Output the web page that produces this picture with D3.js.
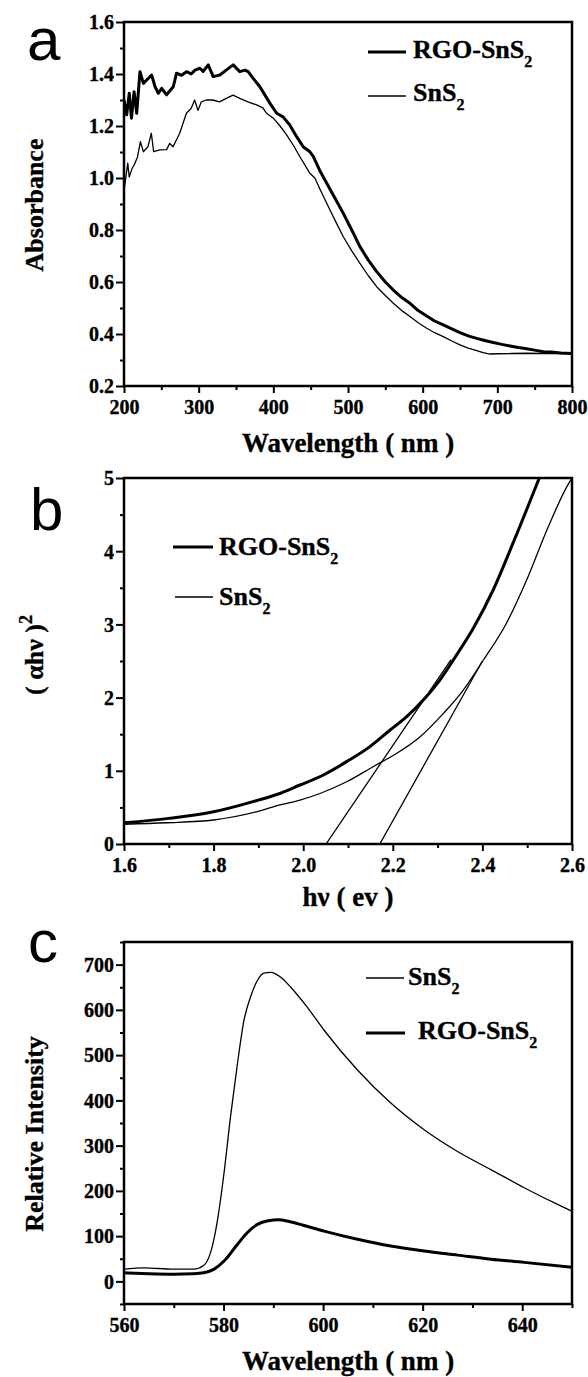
<!DOCTYPE html>
<html>
<head>
<script src="https://d3js.org/d3.v7.min.js"></script>
<style>
body { margin: 0; background: #fff; }
svg text { font-family: "Liberation Serif", "Times New Roman", serif; font-weight: bold; fill: #000; stroke: #000; stroke-width: 0.35px; }
.letter { font-family: "Liberation Sans", Arial, sans-serif; font-weight: normal; font-size: 60px; stroke-width: 0; }
</style>
</head>
<body>
<script>

// ---- panel a : absorbance ----
var absNm   = [200,203.6,207,210,213.5,217,221.4,226,230.4,237,241.6,246,250.5,257,266,270.4,277,283.8,290,295,301.6,306,312.8,319.5,328.4,337.3,346.2,355,362,366.3,373,382,395.5,404.5,413,422,431,440,449,453.6,462,471.5,483,493.7,505,516,527,538.4,550,560.7,572,583,594,605.4,616,627.6,639,650,661,672.3,683,694.6,706,717,728,739.3,750,761.6,772,785,800];
var absRGO  = [1.30,1.243,1.326,1.23,1.332,1.249,1.409,1.364,1.377,1.396,1.351,1.326,1.345,1.32,1.351,1.403,1.395,1.409,1.40,1.415,1.422,1.41,1.435,1.39,1.396,1.416,1.435,1.409,1.415,1.409,1.383,1.351,1.287,1.249,1.235,1.204,1.16,1.12,1.101,1.082,1.03,0.98,0.92,0.864,0.80,0.736,0.685,0.64,0.60,0.569,0.54,0.518,0.49,0.469,0.45,0.435,0.42,0.405,0.393,0.383,0.375,0.367,0.36,0.354,0.348,0.343,0.338,0.332,0.331,0.327,0.325];
var absNm2  = [200,202,205,207,211,213.6,218,222,226,232,236.6,239.7,248,257,261.3,265.7,274.6,283.6,290,294.6,299,303.6,310,319,328,337,346,355,366,377.6,386,391,400,409,418,427,436,449,455.8,462,471.5,483,493.7,505,516,527,538.4,550,560.7,572,583,594,605.4,616,627.6,639,650,661,672.3,681,690,700,720,740,760,780,800];
var absSnS2 = [0.954,0.992,1.057,1.004,1.038,1.05,1.08,1.14,1.101,1.12,1.172,1.101,1.108,1.109,1.133,1.12,1.172,1.249,1.268,1.30,1.26,1.293,1.30,1.30,1.293,1.306,1.319,1.306,1.293,1.281,1.27,1.249,1.23,1.20,1.165,1.125,1.08,1.018,0.999,0.96,0.903,0.835,0.774,0.72,0.672,0.625,0.582,0.548,0.518,0.49,0.467,0.443,0.422,0.405,0.39,0.373,0.358,0.346,0.336,0.328,0.323,0.324,0.325,0.326,0.325,0.326,0.325];
var absXTicks = [200,300,400,500,600,700,800];
var absYTicks = [0.2,0.4,0.6,0.8,1.0,1.2,1.4,1.6];

// ---- panel b : (ahv)^2 vs hv ----
var taucEvRGO  = [1.60,1.70,1.80,1.90,1.948,1.993,2.045,2.097,2.149,2.194,2.231,2.268,2.305,2.34,2.38,2.424,2.469,2.527];
var taucRGO    = [0.29,0.35,0.44,0.60,0.69,0.806,0.943,1.125,1.33,1.557,1.74,1.967,2.24,2.56,2.95,3.47,4.12,5.0];
var tauEvSnS2  = [1.60,1.695,1.80,1.896,1.948,1.993,2.0375,2.097,2.156,2.209,2.261,2.313,2.357,2.402,2.454,2.499,2.544,2.592,2.60];
var tauSnS2    = [0.27,0.29,0.328,0.44,0.533,0.60,0.69,0.85,1.056,1.239,1.466,1.785,2.10,2.51,3.02,3.61,4.29,4.92,5.0];
var tangentRGO  = [[2.051,0],[2.33,2.52]];
var tangentSnS2 = [[2.171,0],[2.40,2.50]];
var tauXTicks = [1.6,1.8,2.0,2.2,2.4,2.6];
var tauYTicks = [0,1,2,3,4,5];

// ---- panel c : PL ----
var plNmSnS2 = [560,564,570,574,576,577.4,578.7,580.1,581.4,582.8,584.1,585.4,586.8,588.1,589.5,591.5,593.5,596.8,600.2,606.9,613.6,620.3,627,633.7,640.4,647.1,650];
var plSnS2   = [27,30,27,27,35,64,130,240,364,482,577,628,665,681,683,672,650,606,555,467,394,335,287,247,207,170,155];
var plNmRGO  = [560,565,570,574,576,578.1,580.1,582.8,584.8,586.8,589,591,593,596,600.2,606.9,613.6,620.3,627,633.7,640.4,650];
var plRGO    = [19,17,16,17,19,27,45,82,108,126,134,136,133,124,111,93,78,67,58,49,42,31];
var plXTicks = [560,580,600,620,640];
var plYTicks = [0,100,200,300,400,500,600,700];

var width = 588, height = 1377;
var left = 124, right = 572, w = right - left;

var svg = d3.select("body").append("svg")
    .attr("width", width)
    .attr("height", height);

function zip(xs, ys) { return xs.map(function(v, i) { return [v, ys[i]]; }); }

function styleTicks(sel) {
  sel.attr("font-family", "Liberation Serif")
     .attr("font-weight", "bold")
     .style("font-family", "'Liberation Serif', serif")
     .style("font-weight", "bold")
     .style("font-size", "20px");
}

function panel(o) {
  var h = o.bottom - o.top;
  var g = svg.append("g").attr("transform", "translate(" + left + "," + o.top + ")");
  var x = d3.scaleLinear().domain(o.xDomain).range([0, w]);
  var y = d3.scaleLinear().domain(o.yDomain).range([h, 0]);

  g.append("clipPath").attr("id", o.id)
    .append("rect").attr("width", w).attr("height", h);

  // minor ticks
  g.append("g").attr("transform", "translate(0," + h + ")")
    .call(d3.axisBottom(x).tickValues(o.xMinor).tickSize(4).tickFormat(""))
    .call(function(s) { s.select(".domain").remove(); });
  g.append("g")
    .call(d3.axisLeft(y).tickValues(o.yMinor).tickSize(4).tickFormat(""))
    .call(function(s) { s.select(".domain").remove(); });

  // major ticks
  var xa = g.append("g").attr("transform", "translate(0," + h + ")")
    .call(d3.axisBottom(x).tickValues(o.xTicks).tickSize(7).tickFormat(o.xFmt));
  xa.select(".domain").remove();
  xa.selectAll("text").attr("y", 28).attr("dy", null).call(styleTicks);
  var ya = g.append("g")
    .call(d3.axisLeft(y).tickValues(o.yTicks).tickSize(8).tickFormat(o.yFmt));
  ya.select(".domain").remove();
  ya.selectAll("text").attr("x", -10).attr("dy", "0.34em").call(styleTicks);
  g.selectAll(".tick line").attr("stroke-width", 2);

  var line = d3.line().x(function(d) { return x(d[0]); }).y(function(d) { return y(d[1]); })
    .curve(o.curve);
  var straight = d3.line().x(function(d) { return x(d[0]); }).y(function(d) { return y(d[1]); });

  o.series.forEach(function(s) {
    g.append("path").datum(s.data)
      .attr("clip-path", "url(#" + o.id + ")")
      .attr("fill", "none").attr("stroke", "#000")
      .attr("stroke-width", s.thick ? 3 : 1.3)
      .attr("stroke-linejoin", "round")
      .attr("d", s.straight ? straight(s.data) : line(s.data));
  });

  // frame
  g.append("rect").attr("width", w).attr("height", h)
    .attr("fill", "none").attr("stroke", "#000").attr("stroke-width", 2.5);

  // legend
  o.legend.forEach(function(l) {
    svg.append("line")
      .attr("x1", l.x1).attr("x2", l.x2).attr("y1", l.y).attr("y2", l.y)
      .attr("stroke", "#000").attr("stroke-width", l.thick ? 3 : 1.3);
    var t = svg.append("text").attr("x", l.tx).attr("y", l.ty).style("font-size", "26px");
    t.append("tspan").text(l.label);
    t.append("tspan").attr("dy", 9).style("font-size", "16px").text("2");
  });

  // panel letter
  svg.append("text").attr("class", "letter").attr("x", o.letterX).attr("y", o.letterY).text(o.letter);

  // x title
  svg.append("text").attr("x", 348).attr("y", o.xTitleY)
    .attr("text-anchor", "middle").style("font-size", "27px").text(o.xTitle);

  // y title
  var yt = svg.append("text")
    .attr("transform", "translate(43," + o.yTitleY + ") rotate(-90)")
    .attr("text-anchor", "middle").style("font-size", "26px");
  yt.append("tspan").text(o.yTitle);
  if (o.yTitleSup) yt.append("tspan").attr("dy", -11).style("font-size", "18px").text(o.yTitleSup);
}

panel({
  id: "clipA", top: 22, bottom: 386,
  xDomain: [200, 800], yDomain: [0.2, 1.6],
  xTicks: absXTicks, yTicks: absYTicks,
  xMinor: d3.range(250, 800, 100), yMinor: d3.range(3, 16, 2).map(function(v) { return v / 10; }),
  xFmt: d3.format("d"), yFmt: d3.format(".1f"),
  curve: d3.curveLinear,
  series: [
    { data: zip(absNm, absRGO), thick: true },
    { data: zip(absNm2, absSnS2), thick: false }
  ],
  legend: [
    { x1: 368, x2: 406, y: 52, tx: 413, ty: 58, label: "RGO-SnS", thick: true },
    { x1: 368, x2: 406, y: 96, tx: 413, ty: 101, label: "SnS", thick: false }
  ],
  letter: "a", letterX: 27, letterY: 60,
  xTitle: "Wavelength ( nm )", xTitleY: 452,
  yTitle: "Absorbance", yTitleY: 205
});

panel({
  id: "clipB", top: 478, bottom: 844,
  xDomain: [1.6, 2.6], yDomain: [0, 5],
  xTicks: tauXTicks, yTicks: tauYTicks,
  xMinor: d3.range(17, 26, 2).map(function(v) { return v / 10; }), yMinor: d3.range(0.5, 5, 1),
  xFmt: d3.format(".1f"), yFmt: d3.format("d"),
  curve: d3.curveMonotoneX,
  series: [
    { data: zip(taucEvRGO, taucRGO), thick: true },
    { data: zip(tauEvSnS2, tauSnS2), thick: false },
    { data: tangentRGO, thick: false, straight: true },
    { data: tangentSnS2, thick: false, straight: true }
  ],
  legend: [
    { x1: 173, x2: 213, y: 547, tx: 219, ty: 555, label: "RGO-SnS", thick: true },
    { x1: 175, x2: 213, y: 597, tx: 219, ty: 605, label: "SnS", thick: false }
  ],
  letter: "b", letterX: 30, letterY: 530,
  xTitle: "h\u03bd  ( ev )", xTitleY: 906,
  yTitle: "( \u03b1h\u03bd )", yTitleSup: "2", yTitleY: 655
});

panel({
  id: "clipC", top: 942, bottom: 1304,
  xDomain: [560, 650], yDomain: [-50, 750],
  xTicks: plXTicks, yTicks: plYTicks,
  xMinor: [570, 590, 610, 630, 650], yMinor: d3.range(-50, 751, 100),
  xFmt: d3.format("d"), yFmt: d3.format("d"),
  curve: d3.curveMonotoneX,
  series: [
    { data: zip(plNmSnS2, plSnS2), thick: false },
    { data: zip(plNmRGO, plRGO), thick: true }
  ],
  legend: [
    { x1: 366, x2: 404, y: 978, tx: 408, ty: 985, label: "SnS", thick: false },
    { x1: 366, x2: 405, y: 1033, tx: 418, ty: 1039, label: "RGO-SnS", thick: true }
  ],
  letter: "c", letterX: 28, letterY: 962,
  xTitle: "Wavelength ( nm )", xTitleY: 1370,
  yTitle: "Relative Intensity", yTitleY: 1134
});

</script>
</body>
</html>
